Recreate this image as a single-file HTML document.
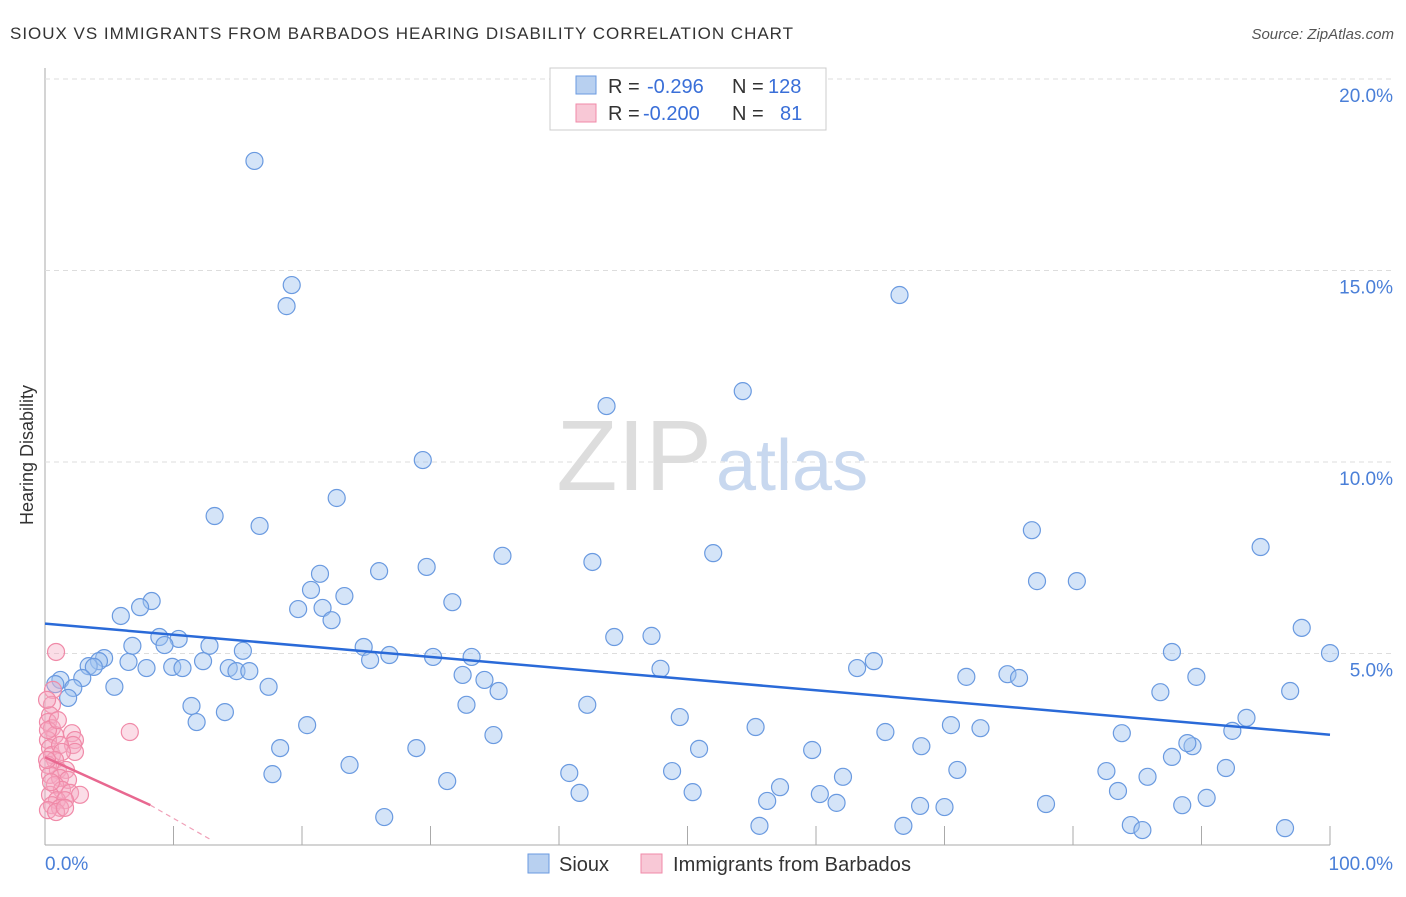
<!DOCTYPE html>
<html><head><meta charset="utf-8"><style>
body{margin:0;background:#fff;font-family:"Liberation Sans",sans-serif}
svg text{font-family:"Liberation Sans",sans-serif}
</style></head><body>
<svg width="1406" height="892">
<text x="10" y="39" font-size="17" fill="#333" textLength="783">SIOUX VS IMMIGRANTS FROM BARBADOS HEARING DISABILITY CORRELATION CHART</text>
<text x="1394" y="39" font-size="15" fill="#555" text-anchor="end" font-style="italic">Source: ZipAtlas.com</text>
<g id="grid"></g>
<text x="712" y="490" font-size="100" fill="#ddd" text-anchor="end" font-family="Liberation Serif">ZIP</text>
<text x="716" y="490" font-size="72" fill="#c8d8ef">atlas</text>
<text x="33" y="455" font-size="18" fill="#333" text-anchor="middle" transform="rotate(-90 33 455)">Hearing Disability</text>
<g id="marks"></g>
<g>
<rect x="550" y="68" width="276" height="62" fill="#fff" stroke="#ccc"/>
<rect x="576" y="76" width="20" height="18" fill="#b8d0f0" stroke="#6a9ae0"/>
<rect x="576" y="104" width="20" height="18" fill="#f8c8d6" stroke="#f08aa8"/>
<text x="608" y="93" font-size="20" fill="#333">R =</text><text x="647" y="93" font-size="20" fill="#3a6fd8">-0.296</text>
<text x="732" y="93" font-size="20" fill="#333">N =</text><text x="768" y="93" font-size="20" fill="#3a6fd8">128</text>
<text x="608" y="120" font-size="20" fill="#333">R =</text><text x="643" y="120" font-size="20" fill="#3a6fd8">-0.200</text>
<text x="732" y="120" font-size="20" fill="#333">N =</text><text x="780" y="120" font-size="20" fill="#3a6fd8">81</text>
</g>
<g>
<rect x="528" y="854" width="21" height="19" fill="#b8d0f0" stroke="#6a9ae0"/>
<text x="559" y="871" font-size="20" fill="#333">Sioux</text>
<rect x="641" y="854" width="21" height="19" fill="#f8c8d6" stroke="#f08aa8"/>
<text x="673" y="871" font-size="20" fill="#333" textLength="238">Immigrants from Barbados</text>
</g>
<text x="45" y="870" font-size="19" fill="#4a7fd8">0.0%</text>
<text x="1393" y="870" font-size="19" fill="#4a7fd8" text-anchor="end">100.0%</text>
</svg>
<script>
const yTicks=[5,10,15,20];
const yTickLabels=["5.0%","10.0%","15.0%","20.0%"];
const blueX=[16.3,19.2,18.8,66.5,54.3,43.7,29.4,22.7,13.2,16.7,76.8,94.6,35.6,52.0,42.6,29.7,21.4,26.0,77.2,80.3,20.7,23.3,31.7,8.3,7.4,5.9,19.7,21.6,22.3,97.8,44.3,47.2,8.9,10.4,9.3,6.8,12.8,24.8,15.4,100,87.7,26.8,33.2,30.2,25.3,4.6,4.2,6.5,3.4,3.8,7.9,9.9,10.7,12.3,14.3,14.9,15.9,64.5,63.2,47.9,74.9,75.8,71.7,89.6,32.5,34.2,2.9,1.2,0.8,2.2,5.4,17.4,35.3,86.8,96.9,1.8,11.4,32.8,42.2,14.0,11.8,20.4,49.4,93.5,70.5,55.3,72.8,65.4,92.4,83.8,34.9,18.3,28.9,50.9,59.7,68.2,89.3,88.9,87.7,23.7,17.7,40.8,48.8,71.0,82.6,91.9,85.8,31.3,62.1,57.2,83.5,41.6,50.4,60.3,56.2,61.6,90.4,77.9,88.5,68.1,70.0,26.4,55.6,66.8,84.5,85.4,96.5];
const blueY=[17.86,14.62,14.07,14.36,11.85,11.46,10.05,9.06,8.59,8.33,8.22,7.78,7.55,7.62,7.39,7.26,7.08,7.15,6.89,6.89,6.66,6.50,6.34,6.37,6.21,5.98,6.16,6.19,5.87,5.67,5.43,5.46,5.43,5.38,5.22,5.20,5.20,5.17,5.07,5.01,5.04,4.96,4.91,4.91,4.83,4.88,4.80,4.78,4.67,4.65,4.62,4.65,4.62,4.80,4.62,4.54,4.54,4.80,4.62,4.60,4.46,4.36,4.39,4.39,4.44,4.31,4.36,4.31,4.20,4.10,4.13,4.13,4.02,3.99,4.02,3.84,3.63,3.66,3.66,3.47,3.21,3.13,3.34,3.32,3.13,3.08,3.05,2.95,2.98,2.92,2.87,2.53,2.53,2.51,2.48,2.58,2.58,2.66,2.30,2.09,1.85,1.88,1.93,1.96,1.93,2.01,1.78,1.67,1.78,1.51,1.41,1.36,1.38,1.33,1.15,1.10,1.23,1.07,1.04,1.02,0.99,0.73,0.50,0.50,0.52,0.39,0.44];
const pinkX=[0.86,6.6,0.62,0.54,0.39,0.23,0.54,0.78,2.1,2.33,2.18,2.33,0.23,0.39,0.54,1.17,1.32,0.78,0.23,1.0,1.63,0.39,1.17,1.79,0.78,1.32,1.95,2.72,0.39,0.93,1.56,0.54,1.17,0.23,0.86,1.56,0.23,0.16,1.0,0.16,0.47];
const pinkY=[5.04,2.95,4.05,3.66,3.39,3.21,3.05,2.87,2.92,2.74,2.61,2.43,2.74,2.53,2.35,2.61,2.43,2.22,2.09,1.96,1.96,1.83,1.75,1.70,1.57,1.44,1.36,1.31,1.31,1.17,1.17,1.04,0.97,0.91,0.86,0.97,3.00,3.79,3.26,2.22,1.64];
const blueTrend=[[0,5.78],[100,2.88]];
const pinkTrend=[[0,2.29],[8.2,1.04]];
const pinkTrendExt=[[8.2,1.04],[13,0.12]];
const NS="http://www.w3.org/2000/svg";
const X=v=>45+v*12.85, Y=v=>845-v*38.3;
function mk(t,a,p){const e=document.createElementNS(NS,t);for(const k in a)e.setAttribute(k,a[k]);p.appendChild(e);return e;}
const grid=document.getElementById('grid'), marks=document.getElementById('marks');
let ax=mk('line',{x1:45,x2:45,y1:68,y2:845,stroke:'#aaa'},grid);


let bx=mk('line',{x1:45,x2:1330,y1:845,y2:845,stroke:'#aaa'},grid);


for(let i=0;i<=10;i++){const t=mk('line',{x1:X(i*10),x2:X(i*10),y1:826,y2:845,stroke:'#aaa'},grid);

}
yTicks.forEach((v,i)=>{const g=mk('line',{x1:45,x2:1394,y1:Y(v),y2:Y(v),stroke:'#ddd','stroke-dasharray':'5,4'},grid);


const t=mk('text',{x:1393,y:Y(v)+23,'font-size':19,fill:'#4a7fd8','text-anchor':'end'},grid);t.textContent=yTickLabels[i];

});
blueX.forEach((v,i)=>{const c=mk('circle',{cx:X(v),cy:Y(blueY[i]),r:8.5,fill:'rgba(160,195,240,0.45)',stroke:'#6a9ae0','stroke-width':1.2},marks);

});
pinkX.forEach((v,i)=>{const c=mk('circle',{cx:X(v),cy:Y(pinkY[i]),r:8.5,fill:'rgba(245,170,195,0.4)',stroke:'#f08aa8','stroke-width':1.2},marks);

});
let l1=mk('line',{x1:X(blueTrend[0][0]),y1:Y(blueTrend[0][1]),x2:X(blueTrend[1][0]),y2:Y(blueTrend[1][1]),stroke:'#2a6ad8','stroke-width':2.5},marks);


let l2=mk('line',{x1:X(pinkTrend[0][0]),y1:Y(pinkTrend[0][1]),x2:X(pinkTrend[1][0]),y2:Y(pinkTrend[1][1]),stroke:'#e86890','stroke-width':2.5},marks);


let l3=mk('line',{x1:X(pinkTrendExt[0][0]),y1:Y(pinkTrendExt[0][1]),x2:X(pinkTrendExt[1][0]),y2:Y(pinkTrendExt[1][1]),stroke:'#f0a0b8','stroke-width':1.2,'stroke-dasharray':'5,4'},marks);


</script>
</body></html>
